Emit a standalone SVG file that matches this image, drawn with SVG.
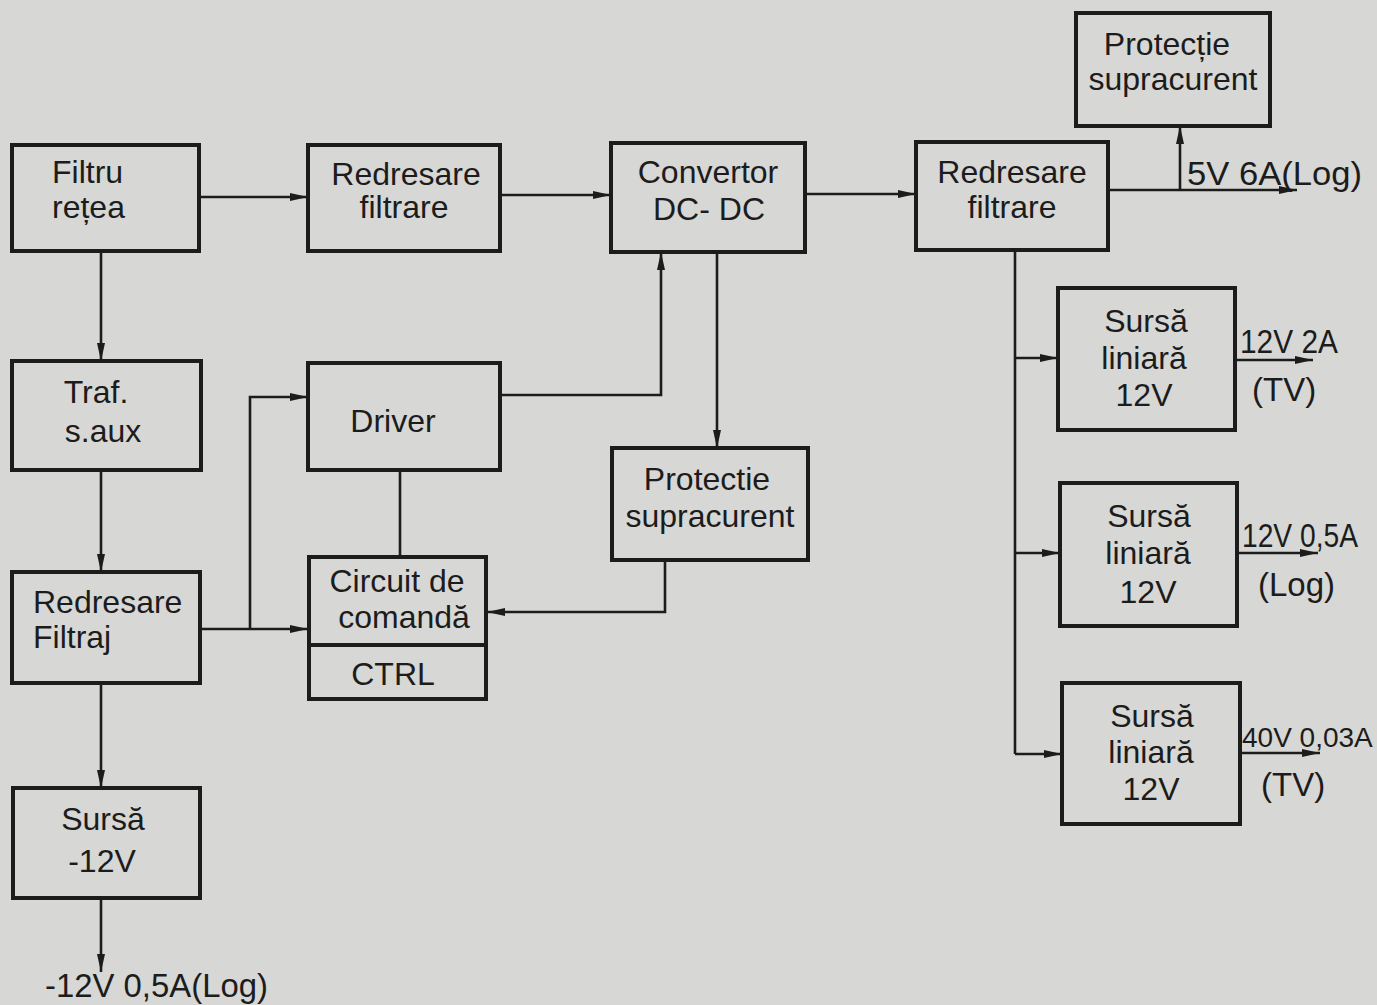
<svg xmlns="http://www.w3.org/2000/svg" width="1377" height="1005" viewBox="0 0 1377 1005">
<defs>
<marker id="arr" markerUnits="userSpaceOnUse" markerWidth="20" markerHeight="10" refX="18" refY="5" orient="auto">
<path d="M0,1 L18,5 L0,9 z" fill="#1c1c1c"/>
</marker>
</defs>
<style>
.box{fill:none;stroke:#1c1c1c;stroke-width:4}
.ln{fill:none;stroke:#1c1c1c;stroke-width:2.6}
.a{marker-end:url(#arr)}
text{font-family:"Liberation Sans","DejaVu Sans",sans-serif;font-size:32px;fill:#1c1c1c}
.m{text-anchor:middle}
.lab{font-size:33px}
.nar{font-size:28px}
</style>
<rect x="0" y="0" width="1377" height="1005" fill="#d7d7d5"/>

<g id="connectors">
<line class="ln a" x1="199" y1="197" x2="308" y2="197"/>
<line class="ln a" x1="500" y1="195" x2="611" y2="195"/>
<line class="ln a" x1="805" y1="194" x2="916" y2="194"/>
<line class="ln a" x1="1108" y1="190" x2="1297" y2="190"/>
<line class="ln a" x1="1180" y1="190" x2="1180" y2="126"/>
<line class="ln a" x1="101" y1="251" x2="101" y2="361"/>
<line class="ln a" x1="101" y1="470" x2="101" y2="572"/>
<line class="ln a" x1="101" y1="683" x2="101" y2="788"/>
<line class="ln a" x1="101" y1="898" x2="101" y2="972"/>
<line class="ln a" x1="200" y1="629" x2="308" y2="629"/>
<polyline class="ln a" points="250,629 250,397 308,397"/>
<polyline class="ln a" points="500,395 661,395 661,252"/>
<line class="ln" x1="400" y1="470" x2="400" y2="557"/>
<line class="ln a" x1="717" y1="252" x2="717" y2="448"/>
<polyline class="ln a" points="665,560 665,612 487,612"/>
<line class="ln" x1="1015" y1="250" x2="1015" y2="754"/>
<line class="ln a" x1="1015" y1="358" x2="1058" y2="358"/>
<line class="ln a" x1="1015" y1="553" x2="1060" y2="553"/>
<line class="ln a" x1="1015" y1="754" x2="1062" y2="754"/>
<line class="ln a" x1="1235" y1="360" x2="1313" y2="360"/>
<line class="ln a" x1="1237" y1="553" x2="1318" y2="553"/>
<line class="ln a" x1="1240" y1="753" x2="1320" y2="753"/>
</g>

<g id="filtru-retea">
<rect class="box" x="12" y="145" width="187" height="106"/>
<text x="52" y="183">Filtru</text>
<text x="52" y="218">rețea</text>
</g>
<g id="redresare-filtrare-1">
<rect class="box" x="308" y="145" width="192" height="106"/>
<text class="m" x="406" y="185">Redresare</text>
<text class="m" x="404" y="218">filtrare</text>
</g>
<g id="convertor">
<rect class="box" x="611" y="143" width="194" height="109"/>
<text class="m" x="708" y="183">Convertor</text>
<text class="m" x="709" y="220">DC- DC</text>
</g>
<g id="redresare-filtrare-2">
<rect class="box" x="916" y="142" width="192" height="108"/>
<text class="m" x="1012" y="183">Redresare</text>
<text class="m" x="1012" y="218">filtrare</text>
</g>
<g id="protectie-top">
<rect class="box" x="1076" y="13" width="194" height="113"/>
<text class="m" x="1167" y="55">Protecție</text>
<text class="m" x="1173" y="90">supracurent</text>
</g>
<g id="traf-saux">
<rect class="box" x="12" y="361" width="189" height="109"/>
<text class="m" x="96" y="403">Traf.</text>
<text class="m" x="103" y="442">s.aux</text>
</g>
<g id="redresare-filtraj">
<rect class="box" x="12" y="572" width="188" height="111"/>
<text x="33" y="613">Redresare</text>
<text x="33" y="648">Filtraj</text>
</g>
<g id="sursa-minus12">
<rect class="box" x="13" y="788" width="187" height="110"/>
<text class="m" x="103" y="830">Sursă</text>
<text class="m" x="102" y="872">-12V</text>
</g>
<g id="driver">
<rect class="box" x="308" y="363" width="192" height="107"/>
<text class="m" x="393" y="432">Driver</text>
</g>
<g id="circuit-comanda">
<rect class="box" x="309" y="557" width="177" height="142"/>
<line class="box" x1="309" y1="645" x2="486" y2="645"/>
<text class="m" x="397" y="592">Circuit de</text>
<text class="m" x="404" y="628">comandă</text>
<text class="m" x="393" y="685">CTRL</text>
</g>
<g id="protectie-mid">
<rect class="box" x="612" y="448" width="196" height="112"/>
<text class="m" x="707" y="490">Protectie</text>
<text class="m" x="710" y="527">supracurent</text>
</g>
<g id="sursa-liniara-1">
<rect class="box" x="1058" y="288" width="177" height="142"/>
<text class="m" x="1146" y="332">Sursă</text>
<text class="m" x="1144" y="369">liniară</text>
<text class="m" x="1144" y="406">12V</text>
</g>
<g id="sursa-liniara-2">
<rect class="box" x="1060" y="483" width="177" height="143"/>
<text class="m" x="1149" y="527">Sursă</text>
<text class="m" x="1148" y="564">liniară</text>
<text class="m" x="1148" y="603">12V</text>
</g>
<g id="sursa-liniara-3">
<rect class="box" x="1062" y="683" width="178" height="141"/>
<text class="m" x="1152" y="727">Sursă</text>
<text class="m" x="1151" y="763">liniară</text>
<text class="m" x="1151" y="800">12V</text>
</g>

<g id="labels">
<text class="lab" x="1187" y="185" textLength="175" lengthAdjust="spacingAndGlyphs">5V  6A(Log)</text>
<text class="lab" x="1240" y="353" textLength="98" lengthAdjust="spacingAndGlyphs">12V  2A</text>
<text class="lab" x="1252" y="401">(TV)</text>
<text class="lab" x="1242" y="547" textLength="116" lengthAdjust="spacingAndGlyphs">12V 0,5A</text>
<text class="lab" x="1258" y="596">(Log)</text>
<text class="nar" x="1242" y="747">40V 0,03A</text>
<text class="lab" x="1261" y="796">(TV)</text>
<text class="lab" x="45" y="997" textLength="223" lengthAdjust="spacingAndGlyphs">-12V  0,5A(Log)</text>
</g>
</svg>
